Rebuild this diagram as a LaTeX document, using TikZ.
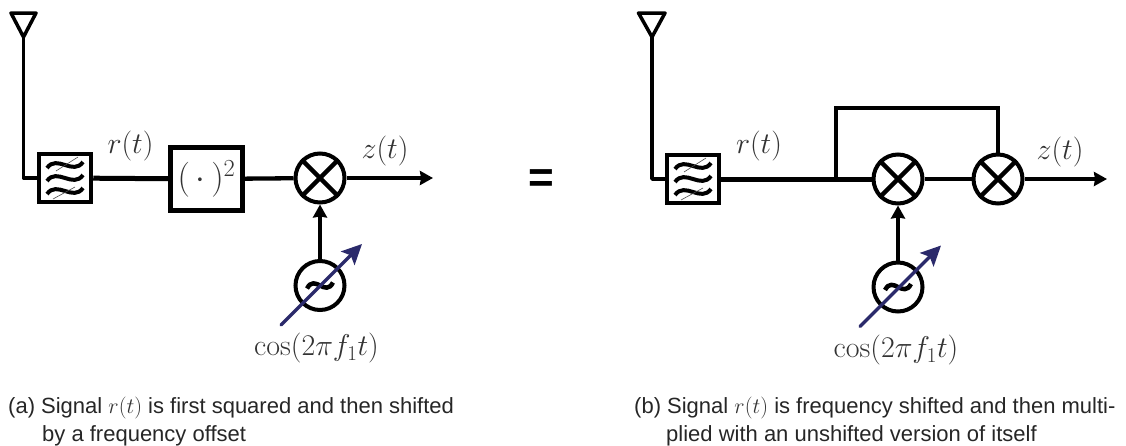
\documentclass[tikz,border=0pt]{standalone}
\usepackage{fix-cm}
\usepackage{fontspec}
\setsansfont{Liberation Sans}
\usetikzlibrary{arrows.meta}
\definecolor{navy}{HTML}{2B2A6B}
\definecolor{mathgray}{HTML}{333333}
\tikzset{
  wire/.style={line width=4.3pt},
  sig/.style={wire,-{Stealth[length=13pt,width=14pt,inset=1pt]}},
  filterbox/.style={draw,line width=4.5pt,minimum width=52pt,minimum height=48pt,inner sep=0pt},
  mixer/.style={draw,circle,line width=4pt,minimum size=49pt,inner sep=0pt},
  lab/.style={text=mathgray,font=\fontsize{30}{33}\selectfont,inner sep=0pt},
  capt/.style={anchor=base west,inner sep=0pt,text=black!85,font=\fontsize{22}{26}\sffamily\selectfont},
  tune/.style={line width=3.5pt,navy,line cap=round,-{Stealth[length=20pt,width=19pt,inset=4pt]}},
  filtersym/.pic={
    \foreach \d in {-13,0,13}
      \draw[line width=4pt] (-18,\d+3) .. controls (-8,\d-11) and (8,\d+11) .. (18,\d-3);
    \draw[line width=0.6pt,black!70] (-9,-7) -- (13,-21);
    \draw[line width=0.6pt,black!70] (-12,21) -- (10,9);
  },
  wavesym/.pic={
    \draw[line width=4.5pt] (-13,3) .. controls (-5,-12) and (5,12) .. (13,-3);
  },
}
\begin{document}
\begin{tikzpicture}[x=1pt,y=-1pt]
\useasboundingbox (0,0) rectangle (1126,445);
% left chain
\coordinate (tipa) at (23.5,37);
\draw[wire,line width=3.5pt,line join=round] (11,13) -- (36,13) -- (tipa) -- cycle;
\node[filterbox] (fa) at (65,178) {};
\pic at (fa) {filtersym};
\node[draw,line width=5pt,minimum width=72pt,minimum height=63pt,inner sep=0pt] (sq) at (206.5,179) {};
\node[lab,font=\fontsize{35}{38}\selectfont] at (sq) {$(\,\cdot\,)^2$};
\node[mixer] (ma) at (320,178) {};
\draw[wire] (ma.45) -- (ma.225);
\draw[wire] (ma.135) -- (ma.315);
\node[mixer] (oa) at (320,285.5) {};
\pic at (oa) {wavesym};
\coordinate (enda) at (433,178);
\coordinate (tua) at (281,325);
\coordinate (tub) at (362,244);
\draw[wire,line width=3.5pt,line join=round] (tipa) |- (fa);
\draw[wire,line width=5pt] (fa) -- (sq);
\draw[wire] (sq) -- (ma);
\draw[sig] (ma) -- (enda);
\draw[sig] (oa) -- (ma);
\draw[tune] (tua) -- (tub);
\node[lab] (ra) at (130.5,146) {$r(t)$};
\node[lab] (za) at (385,151) {$z(t)$};
\node[lab] (ca) at (316.5,348) {$\cos(2\pi f_1 t)$};
\node[inner sep=0pt,font=\fontsize{44}{48}\sffamily\bfseries\selectfont] (eq) at (541,181.5) {=};
% right chain
\coordinate (tipb) at (652,37);
\draw[wire,line width=3.5pt,line join=round] (638.5,13) -- (665,13) -- (tipb) -- cycle;
\node[filterbox] (fb) at (693,179) {};
\pic at (fb) {filtersym};
\node[mixer] (mb) at (898,179) {};
\draw[wire] (mb.45) -- (mb.225);
\draw[wire] (mb.135) -- (mb.315);
\node[mixer] (mc) at (998,179) {};
\draw[wire] (mc.45) -- (mc.225);
\draw[wire] (mc.135) -- (mc.315);
\node[mixer] (ob) at (898,287) {};
\pic at (ob) {wavesym};
\coordinate (split) at (836,179);
\coordinate (topb) at (998,108);
\coordinate (endb) at (1107,179);
\coordinate (tuc) at (860,326.5);
\coordinate (tud) at (941,245.5);
\draw[wire,line width=3.5pt,line join=round] (tipb) |- (fb);
\draw[wire,line width=5pt] (fb) -- (mb);
\draw[wire] (mb) -- (mc);
\draw[wire,line join=miter] (split) |- (topb) -- (mc);
\draw[sig] (mc) -- (endb);
\draw[sig] (ob) -- (mb);
\draw[tune] (tuc) -- (tud);
\node[lab] (rb) at (759,146) {$r(t)$};
\node[lab] (zb) at (1060,152) {$z(t)$};
\node[lab] (cb) at (896,350) {$\cos(2\pi f_1 t)$};
% captions
\node[capt] (capa) at (8,413) {(a) Signal \textcolor{mathgray}{$r(t)$} is first squared and then shifted};
\node[capt] (capb) at (42,441.5) {by a frequency offset};
\node[capt] (capc) at (634,413) {(b) Signal \textcolor{mathgray}{$r(t)$} is frequency shifted and then multi-};
\node[capt] (capd) at (666,441.5) {plied with an unshifted version of itself};
\end{tikzpicture}
\end{document}
